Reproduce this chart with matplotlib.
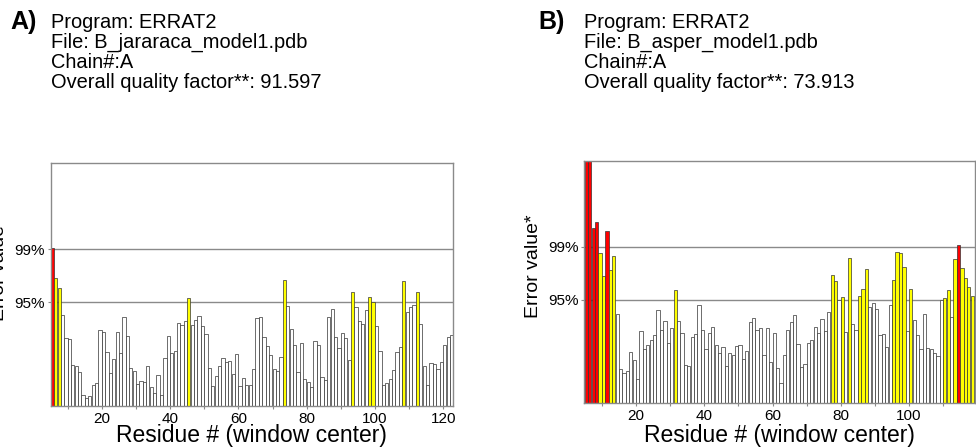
"""
ERRAT2 overall quality plots for two homology models (panels A and B).
Bars are error values per residue window; colour follows the 95% / 99% limits.
"""
import matplotlib
matplotlib.use("Agg")
import numpy as np
import matplotlib.pyplot as plt

LIMIT_95 = 11.36
LIMIT_99 = 17.19
Y_MAX = 26.6

HEADER_A = ["Program: ERRAT2", "File: B_jararaca_model1.pdb", "Chain#:A",
            "Overall quality factor**: 91.597"]
HEADER_B = ["Program: ERRAT2", "File: B_asper_model1.pdb", "Chain#:A",
            "Overall quality factor**: 73.913"]

res_a = np.arange(5, 123)
err_a = [17.3, 14.05, 12.96, 9.96, 7.48, 7.34, 4.45, 4.38, 3.72, 1.17,
         0.91, 1.06, 2.26, 2.52, 8.36, 8.10, 5.88, 3.61, 5.11, 8.10,
         5.80, 9.78, 7.70, 4.20, 3.83, 2.45, 2.70, 2.66, 4.42, 2.08,
         1.42, 3.39, 1.17, 5.29, 7.66, 5.84, 6.06, 9.09, 8.83, 9.27,
         11.82, 8.83, 9.45, 9.85, 8.72, 7.85, 4.20, 2.15, 3.25, 4.42,
         5.29, 4.78, 4.89, 3.54, 5.66, 2.19, 3.10, 2.26, 2.30, 4.01,
         9.60, 9.71, 7.52, 6.57, 5.58, 4.01, 3.87, 5.36, 13.85, 11.0,
         8.4, 6.68, 3.76, 6.86, 2.99, 2.59, 2.08, 7.1, 6.7, 3.2,
         2.9, 9.7, 10.6, 7.6, 6.4, 8.0, 7.5, 5.0, 12.45, 10.9,
         9.3, 8.95, 10.5, 11.95, 11.45, 8.8, 6.0, 2.3, 2.55, 3.0,
         3.9, 5.95, 6.5, 13.67, 10.35, 10.86, 11.09, 12.47, 9.03, 4.38,
         2.26, 4.76, 4.65, 4.1, 4.85, 6.68, 7.6, 7.83]

res_b = np.arange(5, 119)
err_b = [28.0, 28.0, 19.26, 19.88, 16.52, 13.96, 18.86, 14.58, 16.15, 9.76,
         3.73, 3.29, 3.51, 5.63, 4.79, 2.7, 7.89, 5.95, 6.40, 6.89,
         7.51, 10.20, 8.04, 9.0, 6.56, 8.26, 12.46, 9.03, 7.66, 4.24,
         4.13, 7.31, 7.55, 10.78, 8.02, 5.97, 7.66, 8.37, 6.36, 5.48,
         6.21, 4.09, 5.48, 5.30, 6.29, 6.40, 4.90, 5.74, 8.95, 9.32,
         8.04, 8.30, 5.30, 8.30, 4.53, 7.68, 3.91, 2.27, 5.26, 8.00,
         8.95, 9.69, 6.47, 4.02, 4.28, 6.65, 6.94, 8.37, 7.75, 9.25,
         7.93, 10.05, 14.04, 13.38, 11.29, 11.62, 7.86, 15.94, 8.74, 8.0,
         11.8, 12.57, 14.77, 10.6, 11.0, 10.38, 7.49, 7.57, 6.21, 10.75,
         13.56, 16.56, 16.48, 14.95, 7.93, 12.54, 9.1, 7.49, 5.99, 9.83,
         6.1, 5.92, 5.56, 5.19, 11.33, 11.59, 12.43, 9.43, 15.86, 17.4,
         14.88, 13.78, 12.79, 11.73]

W, H = 976, 448
GRAY = "#8a8a8a"


def px_axes(fig, left, top, right, bottom):
    return fig.add_axes([left / W, 1 - bottom / H, (right - left) / W, (bottom - top) / H])


def bar_color(v):
    if v > LIMIT_99:
        return "#ff0000"
    if v > LIMIT_95:
        return "#ffff00"
    return "white"


def draw_panel(ax, res, err, xlim, major, minor, width_px, height_px, bottom_px):
    ax.bar(res, err, width=0.95, align="edge", color=[bar_color(v) for v in err],
           edgecolor="#333333", linewidth=0.5, zorder=3)
    ax.axhline(LIMIT_95, color=GRAY, lw=1.0, zorder=2)
    ax.axhline(LIMIT_99, color=GRAY, lw=1.0, zorder=2)
    ax.set_xlim(*xlim)
    ax.set_ylim(0, Y_MAX)
    ax.set_yticks([LIMIT_95, LIMIT_99])
    ax.set_yticklabels(["95%", "99%"])
    ax.set_xticks(major)
    ax.set_xticks(minor, minor=True)
    ax.tick_params(axis="both", which="both", length=2.5, width=0.8, color=GRAY,
                   labelsize=11, pad=1.5)
    for s in ax.spines.values():
        s.set_color(GRAY)
        s.set_linewidth(1.0)
        s.set_zorder(4)
    ax.set_xlabel("Residue # (window center)", fontsize=16.5)
    ax.xaxis.set_label_coords(0.5, -(424 - bottom_px) / height_px)
    ax.set_ylabel("Error value*", fontsize=14, va="center")
    ax.yaxis.set_label_coords(-51 / width_px, 0.565)


def header(fig, x_letter, letter, x_text, lines):
    fig.text(x_letter / W, 1 - 29.5 / H, letter, fontsize=18, fontweight="bold", va="baseline")
    for i, line in enumerate(lines):
        fig.text(x_text / W, 1 - (27.5 + 20 * i) / H, line, fontsize=14.4, va="baseline")


def main():
    plt.rcParams["font.family"] = ["Liberation Sans", "DejaVu Sans"]
    fig = plt.figure(figsize=(W / 100, H / 100), dpi=100)

    ax_a = px_axes(fig, 50.7, 163.3, 452.7, 406)
    draw_panel(ax_a, res_a, err_a, (5.0, 122.8), np.arange(20, 121, 20),
               np.arange(10, 121, 10), 402, 242.7, 406)
    ax_b = px_axes(fig, 584.3, 160.7, 975, 403.3)
    draw_panel(ax_b, res_b, err_b, (4.86, 119.3), np.arange(20, 101, 20),
               np.arange(10, 111, 10), 390.7, 242.6, 403.3)

    header(fig, 10, "A)", 50.7, HEADER_A)
    header(fig, 538, "B)", 584, HEADER_B)

    fig.savefig("out.png", dpi=100)


if __name__ == "__main__":
    main()
